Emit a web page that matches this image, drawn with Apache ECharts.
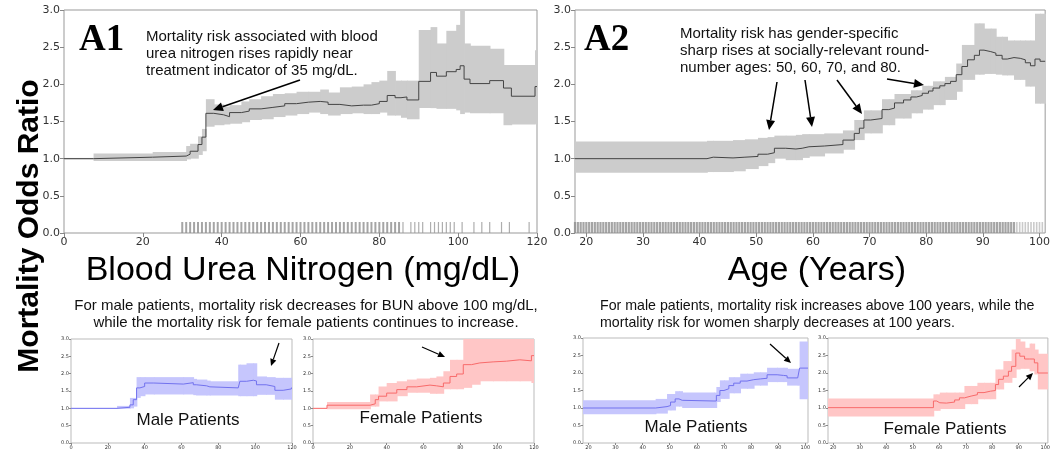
<!DOCTYPE html>
<html>
<head>
<meta charset="utf-8">
<script src="https://cdn.jsdelivr.net/npm/echarts@6/dist/echarts.min.js"></script>
<style>
html, body { margin: 0; padding: 0; background: #fff; }
#chart { width: 1053px; height: 452px; }
</style>
</head>
<body>
<div id="chart"></div>
<script>
// ---- A1: blood urea nitrogen (all patients), step values + band
const bunX    = [0, 7.5, 22.5, 31, 32, 34, 35, 36, 38, 40.5, 42, 45, 47, 50, 53, 56, 59, 62, 65, 67, 70, 73, 76, 78, 80, 82, 84, 85.5, 87, 90, 93, 94.5, 97, 99.5, 100.5, 101.5, 103, 108, 111.5, 113.5, 119.5, 120];
const bunMean = [1.0, 1.02, 1.035, 1.06, 1.1, 1.19, 1.29, 1.61, 1.59, 1.565, 1.62, 1.64, 1.67, 1.69, 1.71, 1.74, 1.76, 1.77, 1.76, 1.73, 1.71, 1.72, 1.72, 1.74, 1.77, 1.85, 1.82, 1.83, 1.79, 2.04, 2.16, 2.11, 2.17, 2.2, 2.25, 2.07, 2.01, 2.05, 1.95, 1.84, 1.97, 1.97];
const bunHi   = [1.01, 1.07, 1.09, 1.17, 1.2, 1.3, 1.4, 1.8, 1.73, 1.7, 1.72, 1.77, 1.8, 1.84, 1.87, 1.88, 1.9, 1.9, 1.93, 1.89, 1.96, 1.97, 2.0, 2.03, 2.05, 2.18, 2.05, 2.05, 2.05, 2.73, 2.77, 2.55, 2.72, 2.8, 3.0, 2.55, 2.52, 2.48, 2.26, 2.26, 2.46, 2.46];
const bunLo   = [0.99, 0.97, 0.97, 0.99, 1.0, 1.05, 1.1, 1.43, 1.45, 1.46, 1.47, 1.49, 1.52, 1.53, 1.56, 1.58, 1.6, 1.62, 1.6, 1.58, 1.6, 1.61, 1.6, 1.6, 1.62, 1.58, 1.58, 1.55, 1.53, 1.68, 1.68, 1.67, 1.67, 1.65, 1.6, 1.62, 1.61, 1.61, 1.45, 1.46, 1.47, 1.47];
const bunRugDense  = [30,31,32,33,34,35,36,37,38,39,40,41,42,43,44,45,46,47,48,49,50,51,52,53,54,55,56,57,58,59,60,61,62,63,64,65,66,67,68,69,70,71,72,73,74,75,76,77,78,79,80,81,82,83,84,85];
const bunRugSparse = [86,88,89,90,91,93,94,95,96,97,98,99,101,104,106,108,111,113,118];

// ---- A2: age (all patients)
const ageX    = [18, 41.3, 42.4, 45.9, 48, 50.3, 52, 53.2, 55.2, 57, 58.1, 59.3, 62, 65.3, 67.3, 68.2, 69, 70.2, 72.2, 73.4, 74.4, 76, 77.3, 78.3, 79.3, 80.4, 81.2, 82.4, 83.3, 84.3, 85.3, 86.3, 87.3, 88.5, 89.4, 90.2, 91.4, 92.3, 93.4, 94.3, 95.5, 96.6, 97.5, 98.4, 99.2, 100.1, 101];
const ageMean = [1.0, 1.02, 1.01, 1.02, 1.03, 1.06, 1.08, 1.14, 1.13, 1.14, 1.16, 1.17, 1.19, 1.25, 1.34, 1.41, 1.52, 1.54, 1.66, 1.68, 1.75, 1.79, 1.83, 1.85, 1.88, 1.91, 1.95, 1.98, 2.01, 2.04, 2.13, 2.24, 2.33, 2.39, 2.46, 2.44, 2.42, 2.39, 2.34, 2.36, 2.35, 2.33, 2.29, 2.25, 2.34, 2.31, 2.31];
const ageHi   = [1.23, 1.24, 1.24, 1.25, 1.26, 1.28, 1.29, 1.31, 1.31, 1.32, 1.33, 1.33, 1.34, 1.38, 1.52, 1.52, 1.65, 1.65, 1.8, 1.8, 1.87, 1.87, 1.92, 1.92, 1.98, 1.98, 2.04, 2.04, 2.1, 2.1, 2.28, 2.53, 2.53, 2.82, 2.82, 2.75, 2.75, 2.64, 2.64, 2.59, 2.59, 2.59, 2.59, 2.59, 2.95, 2.95, 2.95];
const ageLo   = [0.81, 0.82, 0.82, 0.83, 0.86, 0.9, 0.94, 1.0, 0.98, 0.98, 1.01, 1.03, 1.07, 1.12, 1.25, 1.25, 1.34, 1.34, 1.45, 1.45, 1.54, 1.54, 1.61, 1.61, 1.66, 1.66, 1.72, 1.72, 1.79, 1.79, 1.9, 2.06, 2.06, 2.13, 2.13, 2.14, 2.14, 2.13, 2.12, 2.12, 2.06, 2.06, 1.97, 1.97, 1.74, 1.74, 1.74];
const ageRugDense = [18,18.5,19,19.5,20,20.5,21,21.5,22,22.5,23,23.5,24,24.5,25,25.5,26,26.5,27,27.5,28,28.5,29,29.5,30,30.5,31,31.5,32,32.5,33,33.5,34,34.5,35,35.5,36,36.5,37,37.5,38,38.5,39,39.5,40,40.5,41,41.5,42,42.5,43,43.5,44,44.5,45,45.5,46,46.5,47,47.5,48,48.5,49,49.5,50,50.5,51,51.5,52,52.5,53,53.5,54,54.5,55,55.5,56,56.5,57,57.5,58,58.5,59,59.5,60,60.5,61,61.5,62,62.5,63,63.5,64,64.5,65,65.5,66,66.5,67,67.5,68,68.5,69,69.5,70,70.5,71,71.5,72,72.5,73,73.5,74,74.5,75,75.5,76,76.5,77,77.5,78,78.5,79,79.5,80,80.5,81,81.5,82,82.5,83,83.5,84,84.5,85,85.5,86,86.5,87,87.5,88,88.5,89,89.5,90,90.5,91,91.5,92,92.5,93,93.5,94,94.5,95,95.5];
const ageRugSparse = [96,96.5,97,97.5,98,98.5,99,99.5,100,100.5];

// ---- male / female, BUN
const mBunX    = [0, 25, 32, 33.8, 35.6, 37.4, 40, 45, 61, 66.4, 68, 73.6, 75.4, 90.8, 91.7, 95.3, 99, 100.7, 106, 110.7, 115.2, 119.7, 120];
const mBunMean = [1.0, 1.03, 1.1, 1.25, 1.59, 1.63, 1.73, 1.7, 1.74, 1.68, 1.65, 1.62, 1.59, 1.59, 1.78, 1.81, 1.79, 1.68, 1.63, 1.52, 1.56, 1.6, 1.6];
const mBunHi   = [1.01, 1.07, 1.3, 1.3, 1.9, 1.9, 1.9, 1.9, 1.9, 1.85, 1.83, 1.8, 1.78, 2.26, 2.26, 2.3, 2.3, 1.92, 1.9, 1.88, 1.88, 1.88, 1.88];
const mBunLo   = [0.99, 0.99, 1.0, 1.05, 1.3, 1.35, 1.4, 1.4, 1.4, 1.38, 1.37, 1.37, 1.37, 1.35, 1.35, 1.35, 1.35, 1.39, 1.39, 1.25, 1.25, 1.25, 1.25];

const fBunX    = [0, 7.6, 31, 33.8, 35.6, 40, 45.5, 51, 56.3, 63.5, 67, 70.8, 74.4, 78, 81.6, 86, 90.6, 97.8, 105, 112.3, 118.6, 120];
const fBunMean = [1.0, 1.09, 1.13, 1.25, 1.35, 1.44, 1.54, 1.62, 1.67, 1.65, 1.62, 1.73, 1.92, 1.99, 2.26, 2.31, 2.34, 2.36, 2.4, 2.37, 2.52, 2.52];
const fBunHi   = [1.01, 1.18, 1.4, 1.4, 1.63, 1.73, 1.78, 1.83, 1.86, 1.88, 1.92, 2.07, 2.4, 2.4, 3.0, 3.0, 3.0, 3.0, 3.0, 3.0, 3.0, 3.0];
const fBunLo   = [0.99, 0.97, 1.05, 1.05, 1.2, 1.2, 1.35, 1.45, 1.45, 1.42, 1.42, 1.55, 1.55, 1.55, 1.59, 1.68, 1.78, 1.78, 1.78, 1.78, 1.73, 1.73];

// ---- male / female, age
const mAgeX    = [18, 44.8, 49, 50.3, 52, 53.4, 54.6, 66.3, 67.2, 68.5, 70, 71.8, 73.6, 76, 78.5, 81, 83.4, 85.9, 89.6, 92, 93.3, 97.2, 97.9, 101];
const mAgeMean = [1.0, 1.04, 1.07, 1.17, 1.26, 1.22, 1.2, 1.2, 1.36, 1.5, 1.55, 1.64, 1.71, 1.77, 1.81, 1.83, 1.85, 1.95, 1.93, 1.92, 1.86, 1.85, 2.14, 2.14];
const mAgeHi   = [1.22, 1.26, 1.4, 1.4, 1.48, 1.48, 1.44, 1.44, 1.6, 1.79, 1.79, 1.88, 1.88, 1.98, 1.98, 2.02, 2.02, 2.15, 2.15, 2.15, 2.12, 2.12, 2.9, 2.9];
const mAgeLo   = [0.82, 0.84, 0.93, 0.93, 1.04, 1.04, 1.0, 1.0, 1.17, 1.26, 1.26, 1.42, 1.42, 1.55, 1.55, 1.64, 1.64, 1.74, 1.74, 1.74, 1.64, 1.64, 1.25, 1.25];

const fAgeX    = [18, 57.8, 59, 60.2, 62.7, 65.8, 67.6, 69.5, 72, 74.4, 76.9, 79.3, 81.2, 82.4, 84.2, 86.1, 87.3, 88.9, 90.4, 92.2, 94.1, 94.7, 95.9, 97.2, 101];
const fAgeMean = [1.01, 1.2, 1.15, 1.14, 1.17, 1.23, 1.29, 1.34, 1.38, 1.44, 1.48, 1.5, 1.67, 1.82, 1.91, 2.05, 2.19, 2.57, 2.48, 2.4, 2.37, 2.4, 2.29, 2.0, 2.0];
const fAgeHi   = [1.27, 1.39, 1.39, 1.44, 1.44, 1.44, 1.44, 1.63, 1.63, 1.72, 1.72, 1.72, 2.1, 2.1, 2.34, 2.34, 2.67, 2.97, 2.9, 2.72, 2.84, 2.84, 2.67, 2.55, 2.55];
const fAgeLo   = [0.76, 0.92, 0.92, 0.97, 0.97, 0.97, 0.97, 1.11, 1.11, 1.25, 1.25, 1.25, 1.53, 1.53, 1.72, 1.72, 1.86, 2.1, 2.12, 2.12, 2.05, 2.05, 1.96, 1.53, 1.53];

const bunTicks = [0, 20, 40, 60, 80, 100, 120];
const ageTicks = [20, 30, 40, 50, 60, 70, 80, 90, 100];

const GRAY_BAND = '#cccccc', GRAY_LINE = '#444444';
const MALE_BAND = '#c6c6fd', MALE_LINE = '#7272ee';
const FEM_BAND = '#ffc6c6', FEM_LINE = '#f86a6a';
const SANS = '"Liberation Sans", Arial, sans-serif';

var chart = echarts.init(document.getElementById('chart'));

// panel boxes: A1, A2, male BUN, female BUN, male age, female age
var boxes = [
    { left: 64, top: 10, width: 473, height: 223, small: false },
    { left: 575, top: 10, width: 477, height: 223, small: false },
    { left: 71, top: 339, width: 221, height: 104, small: true },
    { left: 313, top: 339, width: 221, height: 104, small: true },
    { left: 583, top: 338, width: 225, height: 105, small: true },
    { left: 828, top: 338, width: 225, height: 105, small: true }
];

function xAxisFor(i, min, max, ticks) {
    var small = boxes[i].small;
    return {
        type: 'value', gridIndex: i, min: min, max: max,
        splitLine: { show: false },
        axisLine: { show: false },
        axisTick: { show: true, customValues: ticks, length: small ? 2 : 4, lineStyle: { color: '#888' } },
        axisLabel: {
            customValues: ticks, margin: small ? 2 : 4,
            fontFamily: 'DejaVu Sans', fontSize: small ? 5 : 11, color: '#333'
        }
    };
}

function yAxisFor(i) {
    var small = boxes[i].small;
    return {
        type: 'value', gridIndex: i, min: 0, max: 3, interval: 0.5,
        splitLine: { show: false },
        axisLine: { show: false },
        axisTick: { show: true, length: small ? 2 : 4, lineStyle: { color: '#888' } },
        axisLabel: {
            margin: small ? 2 : 4, fontFamily: 'DejaVu Sans', fontSize: small ? 5 : 11, color: '#333',
            formatter: function (v) { return v.toFixed(1); }
        }
    };
}

// confidence band drawn as one rect per step (x0, x1, lo, hi), mean as a stepped line
function bandSeries(i, xs, mean, lo, hi, lineColor, bandColor, lw) {
    var segs = [];
    for (var k = 0; k < xs.length - 1; k++) segs.push([xs[k], xs[k + 1], lo[k], hi[k]]);
    return [
        {
            type: 'custom', xAxisIndex: i, yAxisIndex: i, silent: true, clip: true, z: 1,
            encode: { x: [0, 1], y: [2, 3] },
            data: segs,
            renderItem: function (params, api) {
                var p0 = api.coord([api.value(0), api.value(3)]);
                var p1 = api.coord([api.value(1), api.value(2)]);
                return {
                    type: 'rect',
                    shape: { x: p0[0], y: p0[1], width: p1[0] - p0[0] + 0.8, height: p1[1] - p0[1] },
                    style: { fill: bandColor }
                };
            }
        },
        {
            type: 'line', xAxisIndex: i, yAxisIndex: i, step: 'end', symbol: 'none', silent: true,
            lineStyle: { color: lineColor, width: lw }, z: 3,
            data: xs.map(function (x, k) { return [x, mean[k]]; })
        }
    ];
}

function rugSeries(i, xs, w, color) {
    return {
        type: 'scatter', xAxisIndex: i, yAxisIndex: i, symbol: 'rect', symbolSize: [w, 11],
        silent: true, itemStyle: { color: color }, z: 2,
        data: xs.map(function (x) { return [x, 0.074]; })
    };
}

function arrow(x1, y1, x2, y2, head, w) {
    var a = Math.atan2(y2 - y1, x2 - x1);
    var bx = x2 - head * Math.cos(a), by = y2 - head * Math.sin(a);
    var hw = head * 0.45;
    return [
        { type: 'line', silent: true, shape: { x1: x1, y1: y1, x2: bx, y2: by }, style: { stroke: '#000', lineWidth: w }, z: 50 },
        {
            type: 'polygon', silent: true, z: 50,
            shape: { points: [[x2, y2], [bx - hw * Math.sin(a), by + hw * Math.cos(a)], [bx + hw * Math.sin(a), by - hw * Math.cos(a)]] },
            style: { fill: '#000' }
        }
    ];
}

function txt(x, y, s, size, align, extra) {
    var st = {
        text: s, fontSize: size, fontFamily: SANS, fill: '#111',
        align: align, textAlign: align, verticalAlign: 'middle', textVerticalAlign: 'middle'
    };
    if (extra) Object.assign(st, extra);
    return { type: 'text', x: x, y: y, silent: true, z: 60, style: st };
}

var series = []
    .concat(bandSeries(0, bunX, bunMean, bunLo, bunHi, GRAY_LINE, GRAY_BAND, 1))
    .concat(bandSeries(1, ageX, ageMean, ageLo, ageHi, GRAY_LINE, GRAY_BAND, 1))
    .concat(bandSeries(2, mBunX, mBunMean, mBunLo, mBunHi, MALE_LINE, MALE_BAND, 1))
    .concat(bandSeries(3, fBunX, fBunMean, fBunLo, fBunHi, FEM_LINE, FEM_BAND, 1))
    .concat(bandSeries(4, mAgeX, mAgeMean, mAgeLo, mAgeHi, MALE_LINE, MALE_BAND, 1))
    .concat(bandSeries(5, fAgeX, fAgeMean, fAgeLo, fAgeHi, FEM_LINE, FEM_BAND, 1));
series.push(rugSeries(0, bunRugDense, 2, '#8e8e8e'));
series.push(rugSeries(0, bunRugSparse, 1.2, '#9a9a9a'));
series.push(rugSeries(1, ageRugDense, 2.2, '#8e8e8e'));
series.push(rugSeries(1, ageRugSparse, 1.6, '#bdbdbd'));

var graphic = [
    // big vertical title
    {
        type: 'text', x: 30, y: 226, rotation: Math.PI / 2, silent: true,
        style: {
            text: 'Mortality Odds Ratio', fontSize: 30, fontWeight: 'bold', fontFamily: SANS, fill: '#000',
            align: 'center', textAlign: 'center', verticalAlign: 'middle', textVerticalAlign: 'middle'
        }
    },
    txt(303, 271, 'Blood Urea Nitrogen (mg/dL)', 34, 'center', { fill: '#000' }),
    txt(817, 271, 'Age (Years)', 34, 'center', { fill: '#000' }),
    txt(79, 40, 'A1', 37, 'left', { fontFamily: '"Liberation Serif", "Times New Roman", serif', fontWeight: 'bold', fill: '#000' }),
    txt(584, 40, 'A2', 37, 'left', { fontFamily: '"Liberation Serif", "Times New Roman", serif', fontWeight: 'bold', fill: '#000' }),
    txt(146, 37, 'Mortality risk associated with blood', 15, 'left'),
    txt(146, 54, 'urea nitrogen rises rapidly near', 15, 'left'),
    txt(146, 71, 'treatment indicator of 35 mg/dL.', 15, 'left'),
    txt(680, 34, 'Mortality risk has gender-specific', 15, 'left'),
    txt(680, 51, 'sharp rises at socially-relevant round-', 15, 'left'),
    txt(680, 68, 'number ages: 50, 60, 70, and 80.', 15, 'left'),
    txt(306, 306, 'For male patients, mortality risk decreases for BUN above 100 mg/dL,', 15, 'center'),
    txt(306, 323, 'while the mortality risk for female patients continues to increase.', 15, 'center'),
    txt(600, 306, 'For male patients, mortality risk increases above 100 years, while the', 14.2, 'left'),
    txt(600, 323, 'mortality risk for women sharply decreases at 100 years.', 14.2, 'left'),
    txt(188, 420, 'Male Patients', 17, 'center'),
    txt(421, 418, 'Female Patients', 17, 'center'),
    txt(696, 427, 'Male Patients', 17, 'center'),
    txt(945, 429, 'Female Patients', 17, 'center')
]
    .concat(arrow(300, 80, 213, 110, 10, 1.5))
    .concat(arrow(777, 82, 769, 130, 10, 1.5))
    .concat(arrow(805, 80, 812, 127, 10, 1.5))
    .concat(arrow(837, 80, 862, 114, 10, 1.5))
    .concat(arrow(887, 79, 924, 85, 10, 1.5))
    .concat(arrow(279, 343, 271, 366, 7, 1.2))
    .concat(arrow(422, 347, 445, 357, 7, 1.2))
    .concat(arrow(770, 344, 791, 363, 7, 1.2))
    .concat(arrow(1019, 387, 1033, 373, 7, 1.2));

chart.setOption({
    animation: false,
    backgroundColor: '#fff',
    grid: boxes.map(function (b) {
        return {
            left: b.left, top: b.top, width: b.width, height: b.height,
            show: true, borderColor: b.small ? '#bbb' : '#999', borderWidth: 1, backgroundColor: 'transparent'
        };
    }),
    xAxis: [
        xAxisFor(0, 0, 120, bunTicks),
        xAxisFor(1, 18, 101, ageTicks),
        xAxisFor(2, 0, 120, bunTicks),
        xAxisFor(3, 0, 120, bunTicks),
        xAxisFor(4, 18, 101, ageTicks),
        xAxisFor(5, 18, 101, ageTicks)
    ],
    yAxis: [0, 1, 2, 3, 4, 5].map(yAxisFor),
    series: series,
    graphic: graphic
});
</script>
</body>
</html>
